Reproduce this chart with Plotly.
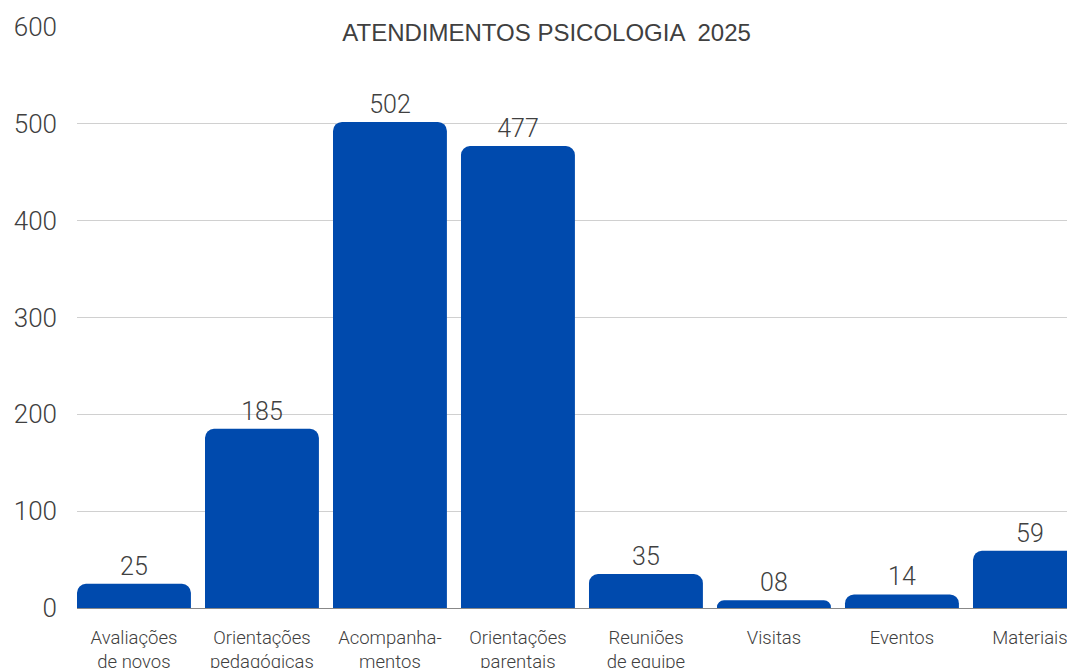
import plotly.graph_objects as go

categories = ["Avaliações<br>de novos", "Orientações<br>pedagógicas", "Acompanha-<br>mentos",
              "Orientações<br>parentais", "Reuniões<br>de equipe", "Visitas", "Eventos", "Materiais"]
values = [25, 185, 502, 477, 35, 8, 14, 59]
value_labels = ["25", "185", "502", "477", "35", "08", "14", "59"]
y_ticks = [0, 100, 200, 300, 400, 500, 600]

fig = go.Figure(go.Bar(
    x=list(range(len(categories))), y=values,
    text=value_labels, textposition="outside",
    textfont=dict(size=25, color="#404040", family="Roboto", weight=300),
    marker=dict(color="#004AAD", line=dict(width=0)),
    cliponaxis=False,
))

# page body has an 8px margin; offsets below compensate for it
fig.update_layout(
    width=1075, height=660,
    margin=dict(l=69, r=8, t=19, b=60),
    paper_bgcolor="white", plot_bgcolor="white",
    bargap=0.11, barcornerradius=9,
    showlegend=False,
    title=dict(text="ATENDIMENTOS PSICOLOGIA  2025", x=0.501, xanchor="center", y=0.963, yanchor="middle",
               font=dict(family="Liberation Sans Narrow, Arial Narrow, Liberation Sans, sans-serif", size=24, color="#404040")),
    font=dict(family="Roboto", color="#404040"),
)
fig.update_xaxes(
    tickmode="array", tickvals=list(range(len(categories))), ticktext=categories,
    range=[-0.445, 7.352], showgrid=False, showline=True, linecolor="#888888", linewidth=1,
    tickfont=dict(size=18.5, color="#404040", weight=300), ticks="", tickangle=0,
    ticklabelstandoff=13, automargin=False,
)
fig.update_yaxes(
    range=[0, 600], tickvals=y_ticks, showgrid=True, gridcolor="#d0d0d0", gridwidth=1,
    zeroline=False, showline=False, tickfont=dict(size=26, color="#404040", weight=300),
    ticks="", ticklabelstandoff=19, automargin=False,
)
fig.write_html("out.html")
